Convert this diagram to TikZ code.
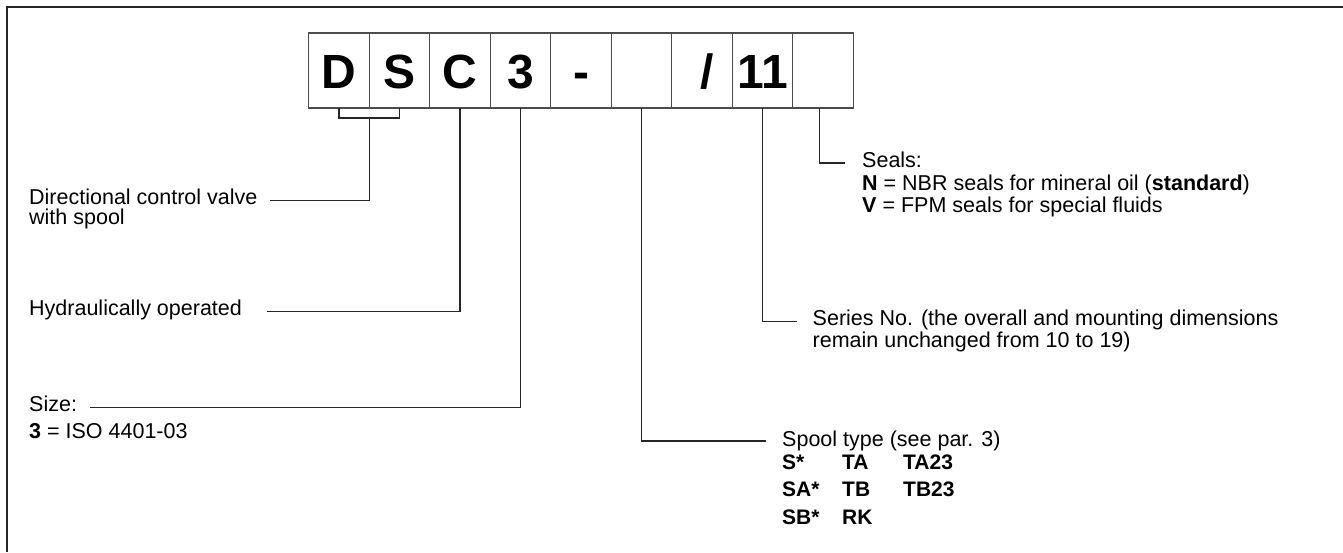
\documentclass[tikz,border=0pt]{standalone}
\usepackage{fontspec}
\setmainfont{Liberation Sans}
\usetikzlibrary{positioning}

\begin{document}
\begin{tikzpicture}[
    x=1pt, y=-1pt,
    node distance=0pt and 0pt,
    cell/.style={draw=black!70, line width=1.2pt, minimum width=60.5pt,
                 minimum height=75pt, inner sep=0pt, outer sep=0pt,
                 text height=35pt, text depth=0pt,
                 font=\fontsize{48}{48}\selectfont\bfseries},
    lbl/.style={inner sep=0pt, anchor=base west, font=\fontsize{21.5}{21.5}\selectfont},
    code/.style={inner sep=0pt, anchor=base west, font=\fontsize{21}{21}\selectfont\bfseries},
    conn/.style={draw=black!85, line width=1.2pt}
]
\useasboundingbox (0,0) rectangle (1343,552);
\draw[line width=2pt, black!85] (1343,6.5) -- (7,6.5) -- (7,552);

% code boxes
\node[cell] (d) at (339,70.5) {D};
\node[cell, right=of d] (s) {S};
\node[cell, right=of s] (c) {C};
\node[cell, right=of c] (sz) {3};
\node[cell, right=of sz] (dash) {-};
\node[cell, right=of dash] (spl) {};
\node[cell, right=of spl] (slash) {\kern10pt/};
\node[cell, right=of slash] (ser) {11};
\node[cell, right=of ser] (sl) {};

% descriptions
\node[lbl] (dir) at (29,204) {Directional control valve};
\node[lbl] (dir2) at (29,224) {with spool};
\node[lbl] (hyd) at (29,315.5) {Hydraulically operated};
\node[lbl] (size) at (29,411) {Size:};
\node[lbl] (size2) at (29,438.5) {\textbf{3} = ISO 4401-03};

\node[lbl] (seal) at (862,167.5) {Seals:};
\node[lbl] (seal2) at (862,190) {\textbf{N} = NBR seals for mineral oil (\textbf{standard})};
\node[lbl] (seal3) at (862,212.5) {\textbf{V} = FPM seals for special fluids};

\node[lbl] (serno) at (812.5,325) {Series No. (the overall and mounting dimensions};
\node[lbl] (serno2) at (812.5,347) {remain unchanged from 10 to 19)};

\node[lbl] (spool) at (782,446.5) {Spool type (see par. 3)};
\node[code] (sa) at (782,469) {S*};
\node[code] (sb) at (782,496.5) {SA*};
\node[code] (sc) at (782,524) {SB*};
\node[code] (ta) at (842,469) {TA};
\node[code] (tb) at (842,496.5) {TB};
\node[code] (rk) at (842,524) {RK};
\node[code] (ta23) at (903,469) {TA23};
\node[code] (tb23) at (903,496.5) {TB23};

% connectors
\draw[conn] (d.south) -- ++(0,10) -| (s.south);
\draw[conn] ([yshift=-10pt]d.south east) |- ([shift={(12pt,3.5pt)}]dir.base east);
\draw[conn] (c.south) |- ([shift={(25pt,4pt)}]hyd.base east);
\draw[conn] (sz.south) |- ([shift={(13pt,3.5pt)}]size.base east);
\draw[conn] (spl.south) |- ([shift={(-16pt,5.5pt)}]spool.base west);
\draw[conn] (ser.south) |- ([shift={(-16pt,3.5pt)}]serno.base west);
\draw[conn] ([xshift=-3.5pt]sl.south) |- ([shift={(-17pt,4.5pt)}]seal.base west);
\end{tikzpicture}
\end{document}
